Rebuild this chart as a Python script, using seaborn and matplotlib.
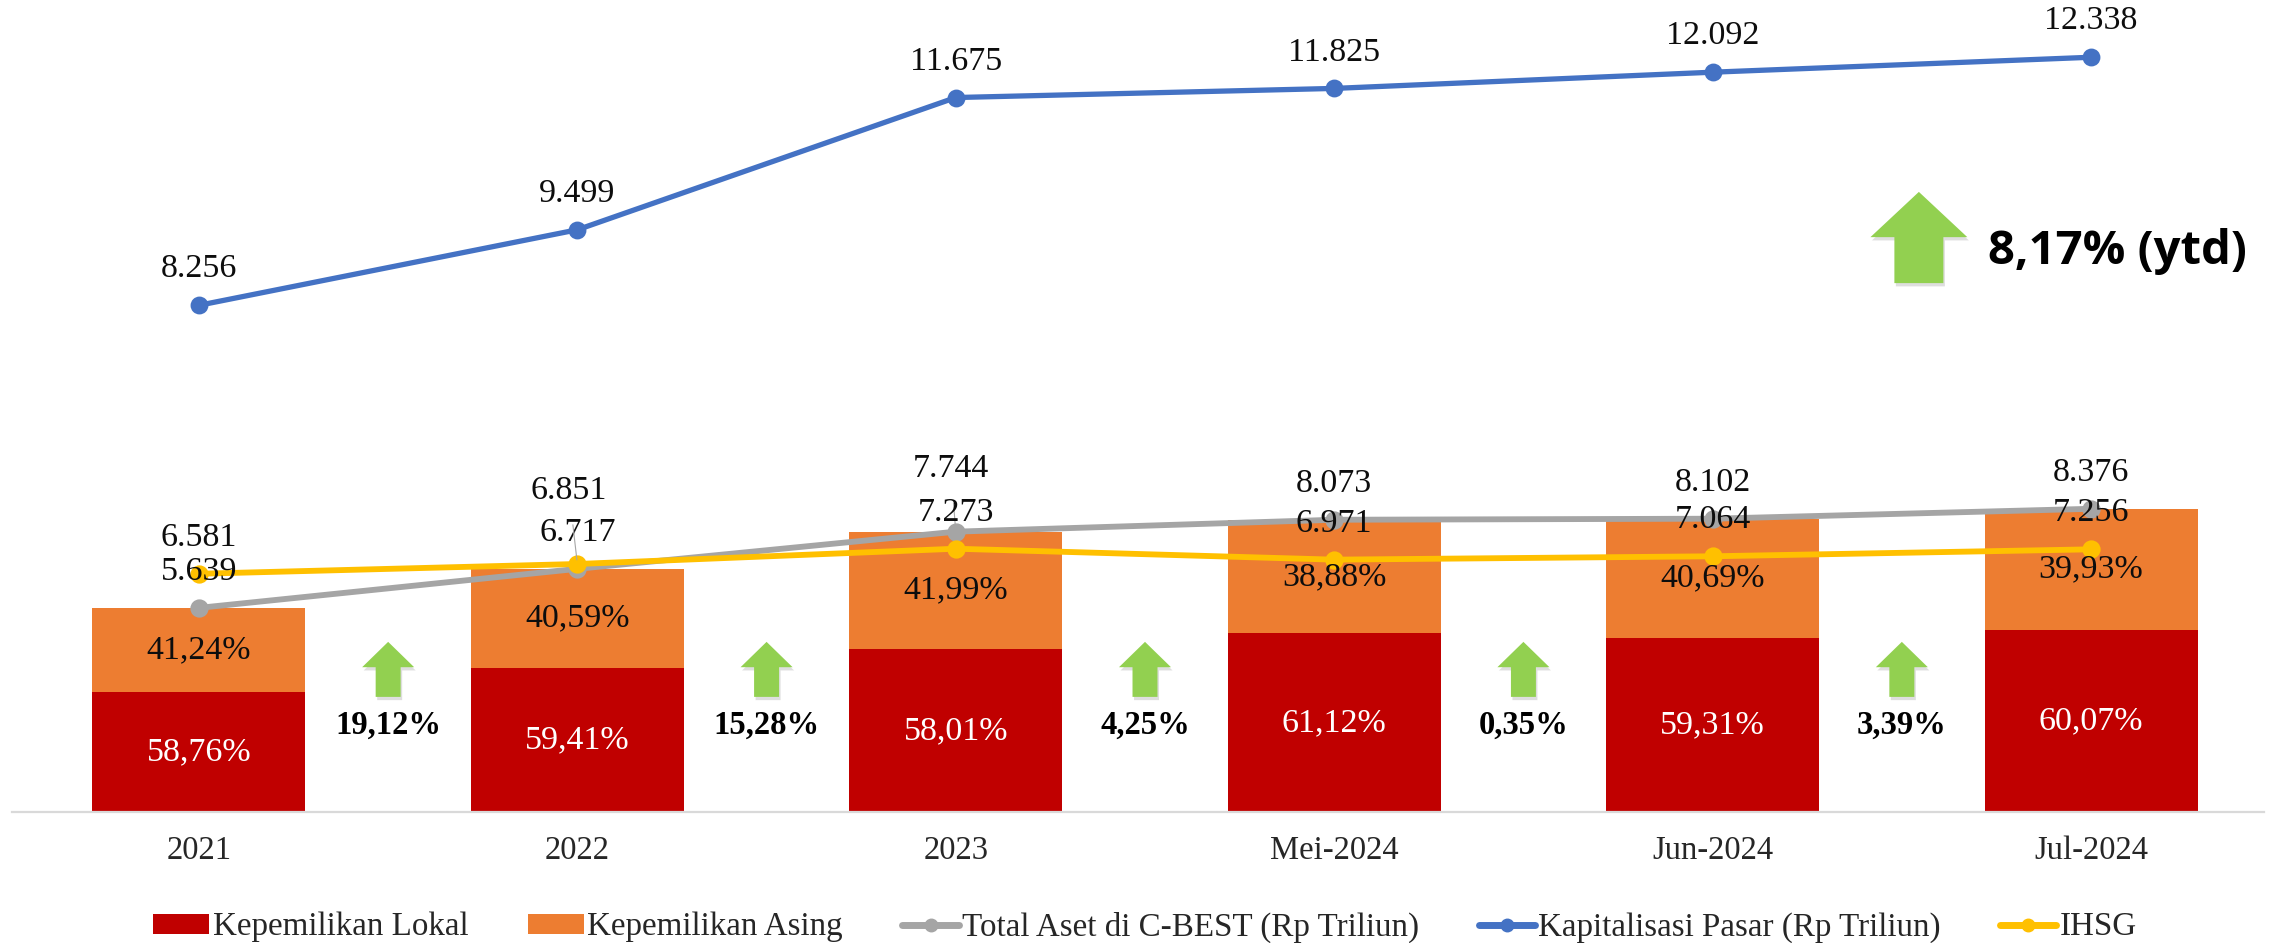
import numpy as np
import pandas as pd
import matplotlib
matplotlib.use("Agg")
import matplotlib.pyplot as plt
from matplotlib.patches import Patch, Polygon
from matplotlib.lines import Line2D
import seaborn as sns

# data
periods = ["2021", "2022", "2023", "Mei-2024", "Jun-2024", "Jul-2024"]
total_aset = [5.639, 6.717, 7.744, 8.073, 8.102, 8.376]
kapitalisasi = [8.256, 9.499, 11.675, 11.825, 12.092, 12.338]
ihsg = [6.581, 6.851, 7.273, 6.971, 7.064, 7.256]
lokal_pct = [58.76, 59.41, 58.01, 61.12, 59.31, 60.07]
asing_pct = [41.24, 40.59, 41.99, 38.88, 40.69, 39.93]
growth_pct = [19.12, 15.28, 4.25, 0.35, 3.39]
ytd_pct = 8.17

RED = "#C00000"
ORANGE = "#ED7D31"
GRAY = "#A5A5A5"
BLUE = "#4472C4"
YELLOW = "#FFC000"
GREEN = "#92D050"

def fmt_pct(v):
    return f"{v:.2f}".replace(".", ",") + "%"

df = pd.DataFrame({"periode": periods, "total": total_aset, "kap": kapitalisasi,
                   "ihsg": ihsg, "lokal": lokal_pct, "asing": asing_pct})
df["lokal_val"] = df["total"] * df["lokal"] / 100

sns.set_style("white")
plt.rcParams["font.family"] = ["Liberation Serif", "DejaVu Serif"]

fig = plt.figure(figsize=(22.9, 9.43), dpi=100)
ax = fig.add_axes([12 / 2290, 1 - 812 / 943, 2252 / 2290, 812 / 943])

# stacked bars: orange total, red local share on top of it
bw = 0.563
sns.barplot(data=df, x="periode", y="total", color=ORANGE, saturation=1, width=bw,
            linewidth=0, ax=ax)
sns.barplot(data=df, x="periode", y="lokal_val", color=RED, saturation=1, width=bw,
            linewidth=0, ax=ax)

sns.pointplot(data=df, x="periode", y="total", color=GRAY, markers="o", errorbar=None,
              linewidth=4.2, markersize=10, ax=ax)
sns.pointplot(data=df, x="periode", y="ihsg", color=YELLOW, markers="o", errorbar=None,
              linewidth=4.2, markersize=10, ax=ax)

ax2 = ax.twinx()
sns.pointplot(data=df, x="periode", y="kap", color=BLUE, markers="o", errorbar=None,
              linewidth=3.8, markersize=10, ax=ax2)

ax.set_ylim(0, 812 / 36.2)
ax2.set_ylim(-0.082, 13.28)
for a in (ax, ax2):
    a.set_xlim(-0.494, 5.457)
    a.set_ylabel("")
    a.set_xlabel("")
    a.set_yticks([])
    for s in a.spines.values():
        s.set_visible(False)
ax.spines["bottom"].set_visible(True)
ax.spines["bottom"].set_color("#D9D9D9")
ax.spines["bottom"].set_linewidth(1.6)
ax.tick_params(axis="x", length=0, pad=17, labelsize=23.5)

lbl = dict(fontsize=24.5, color="#0D0D0D", ha="center", va="center")
lead = dict(arrowstyle="-", color="#A6A6A6", lw=0.8, shrinkA=11, shrinkB=3)

# value labels
total_off = {2: (-3.6, 45)}
ihsg_off = {1: (-6, 52.5)}
for i in range(len(periods)):
    if i in total_off:
        ax.annotate(f"{total_aset[i]:.3f}", (i, total_aset[i]), xytext=total_off[i],
                    textcoords="offset points", arrowprops=lead, **lbl)
    else:
        ax.annotate(f"{total_aset[i]:.3f}", (i, total_aset[i]), xytext=(0, 26),
                    textcoords="offset points", **lbl)
    if i in ihsg_off:
        ax.annotate(f"{ihsg[i]:.3f}", (i, ihsg[i]), xytext=ihsg_off[i],
                    textcoords="offset points", arrowprops=lead, **lbl)
    else:
        ax.annotate(f"{ihsg[i]:.3f}", (i, ihsg[i]), xytext=(0, 26),
                    textcoords="offset points", **lbl)
    ax2.annotate(f"{kapitalisasi[i]:.3f}", (i, kapitalisasi[i]), xytext=(0, 26),
                 textcoords="offset points", **lbl)

    lv = df["lokal_val"][i]
    ax.text(i, lv / 2, fmt_pct(lokal_pct[i]), fontsize=24.5, color="white", ha="center", va="center")
    ax.text(i, (lv + total_aset[i]) / 2, fmt_pct(asing_pct[i]), fontsize=24.5, color="#0D0D0D",
            ha="center", va="center")


def up_arrow(a, xc, y_bot, y_neck, y_tip, half_head, half_shaft, z=5):
    pts = [(xc - half_shaft, y_bot), (xc - half_shaft, y_neck), (xc - half_head, y_neck),
           (xc, y_tip), (xc + half_head, y_neck), (xc + half_shaft, y_neck), (xc + half_shaft, y_bot)]
    sh = [(x + 0.004, y - 0.09) for x, y in pts]
    a.add_patch(Polygon(sh, closed=True, facecolor="#BFBFBF", edgecolor="none", alpha=0.5, zorder=z - 1))
    a.add_patch(Polygon(pts, closed=True, facecolor=GREEN, edgecolor="none", zorder=z))


# growth arrows between bars
for i, g in enumerate(growth_pct):
    xc = i + 0.5
    up_arrow(ax, xc, 3.18, 4.0, 4.70, 0.0687, 0.033)
    ax.text(xc, 2.40, fmt_pct(g), fontsize=23.5, fontweight="bold", color="black",
            ha="center", va="center")

# ytd arrow and label
up_arrow(ax, 4.545, 14.61, 15.88, 17.13, 0.128, 0.0647)
ax.text(4.728, 15.47, fmt_pct(ytd_pct) + " (ytd)", fontsize=34, fontweight="bold",
        family=["Open Sans", "DejaVu Sans"], color="black", ha="left", va="center")

handles = [
    Patch(facecolor=RED, edgecolor="none"),
    Patch(facecolor=ORANGE, edgecolor="none"),
    Line2D([], [], color=GRAY, lw=5, marker="o", markersize=9),
    Line2D([], [], color=BLUE, lw=5, marker="o", markersize=9),
    Line2D([], [], color=YELLOW, lw=5, marker="o", markersize=9),
]
labels = ["Kepemilikan Lokal", "Kepemilikan Asing", "Total Aset di C-BEST (Rp Triliun)",
          "Kapitalisasi Pasar (Rp Triliun)", "IHSG"]
fig.legend(handles, labels, loc="center", bbox_to_anchor=(0.5, 1 - 927 / 943), ncol=5,
           frameon=False, fontsize=23.8, handlelength=1.7, handleheight=0.55,
           handletextpad=0.1, columnspacing=1.8)

fig.savefig("out.png", dpi=100)
